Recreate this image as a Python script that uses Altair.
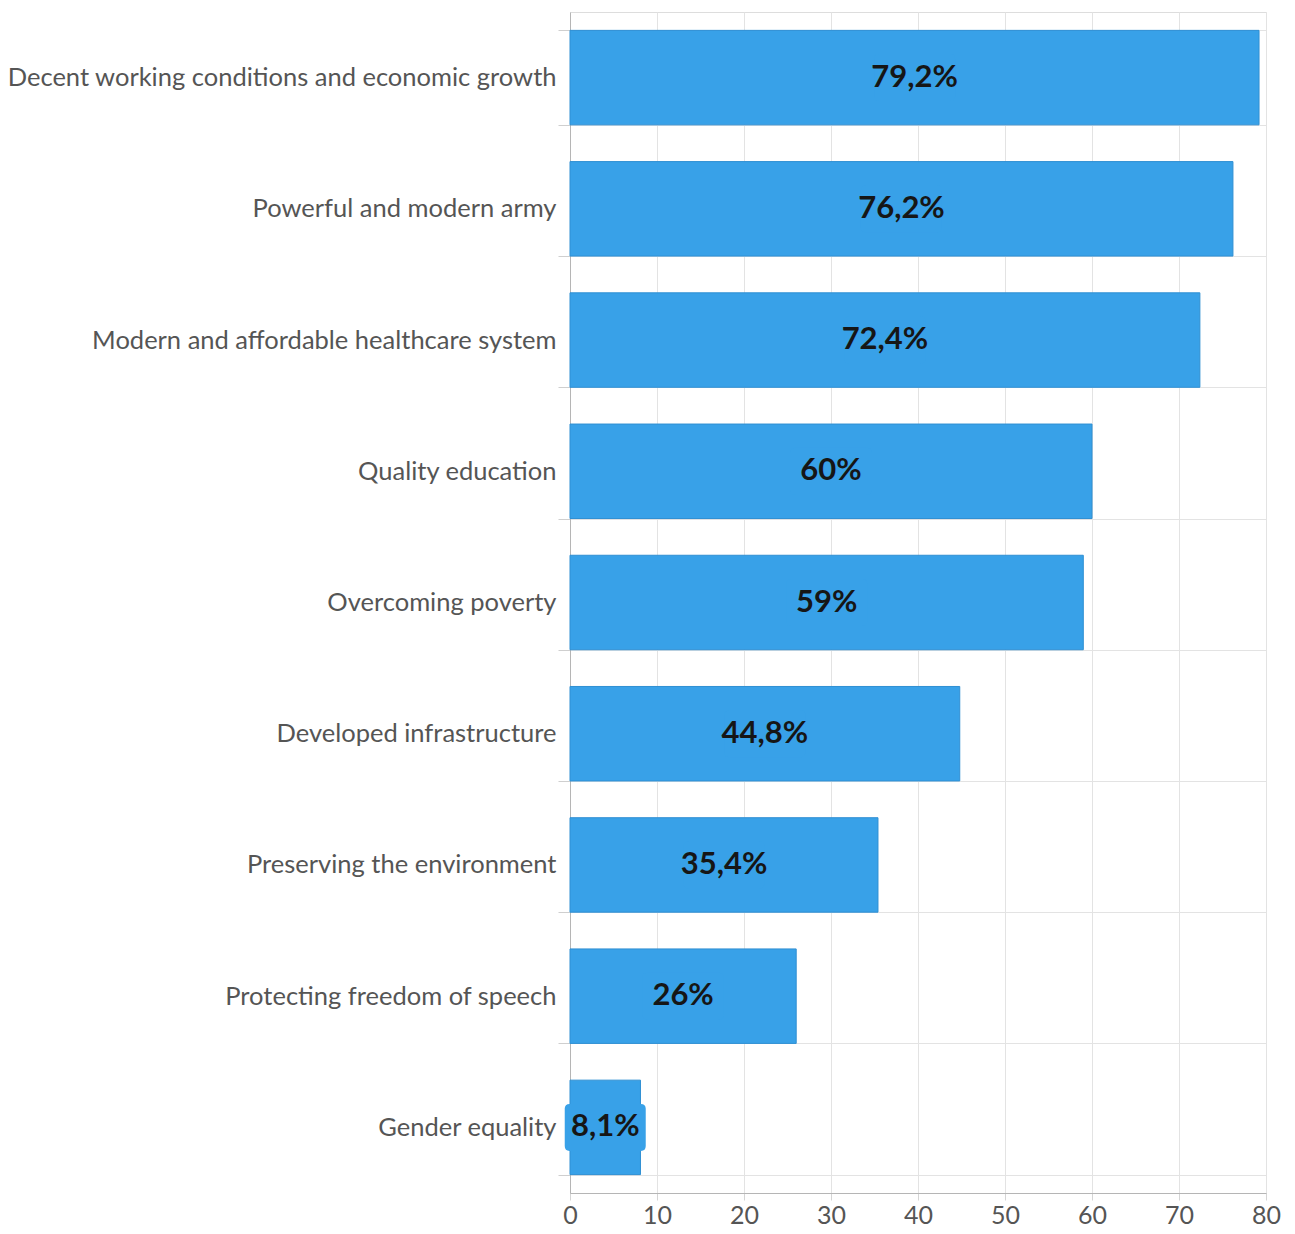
import altair as alt
import pandas as pd

categories = [
    "Decent working conditions and economic growth",
    "Powerful and modern army",
    "Modern and affordable healthcare system",
    "Quality education",
    "Overcoming poverty",
    "Developed infrastructure",
    "Preserving the environment",
    "Protecting freedom of speech",
    "Gender equality",
]
values = [79.2, 76.2, 72.4, 60, 59, 44.8, 35.4, 26, 8.1]
labels = ["79,2%", "76,2%", "72,4%", "60%", "59%", "44,8%", "35,4%", "26%", "8,1%"]
x_ticks = [0, 10, 20, 30, 40, 50, 60, 70, 80]

df = pd.DataFrame({"cat": categories, "value": values, "label": labels})
df["mid"] = df["value"] / 2

BLUE = "#38a1e8"
FONT = "Lato"

y_enc = alt.Y(
    "cat:N",
    sort=categories,
    title=None,
    scale=alt.Scale(paddingInner=0.28, paddingOuter=0.14),
    axis=alt.Axis(
        tickBand="extent",
        grid=True,
        gridColor="#e3e3e3",
        domainColor="#b5b5b5",
        tickColor="#cfcfcf",
        tickSize=12,
        labelPadding=2,
        labelFont=FONT,
        labelFontSize=25.5,
        labelColor="#555555",
        labelLimit=600,
    ),
)

x_scale = alt.Scale(domain=[0, 80], nice=False, zero=True)
x_axis = alt.Axis(
    values=x_ticks,
    grid=True,
    gridColor="#e3e3e3",
    domainColor="#b5b5b5",
    tickColor="#d5d5d5",
    tickSize=7,
    labelFont=FONT,
    labelFontSize=25,
    labelColor="#555555",
    labelPadding=3,
    labelFlush=False,
    title=None,
)

bars = alt.Chart(df).mark_bar(color=BLUE, stroke="#2f8fd3", strokeWidth=1).encode(
    y=y_enc,
    x=alt.X("value:Q", scale=x_scale, axis=x_axis),
)

rounded = "M -0.88 -0.58 L 0.88 -0.58 Q 1 -0.58 1 -0.46 L 1 0.46 Q 1 0.58 0.88 0.58 L -0.88 0.58 Q -1 0.58 -1 0.46 L -1 -0.46 Q -1 -0.58 -0.88 -0.58 Z"

boxes = alt.Chart(df).mark_point(
    shape=rounded, filled=True, color=BLUE, opacity=1, size=81 * 81
).encode(
    y=alt.Y("cat:N", sort=categories),
    x=alt.X("mid:Q", scale=x_scale),
)

texts = alt.Chart(df).mark_text(
    font=FONT, fontSize=31, fontWeight="bold", color="#161616",
    align="center", baseline="middle"
).encode(
    y=alt.Y("cat:N", sort=categories),
    x=alt.X("mid:Q", scale=x_scale),
    text="label:N",
)

chart = (
    alt.layer(bars, boxes, texts)
    .properties(
        width=696,
        height=1181,
        autosize=alt.AutoSizeParams(type="none"),
        padding={"left": 570, "top": 12, "right": 29, "bottom": 41},
    )
    .configure_view(stroke=None)
    .configure(background="white")
)

chart.save("out.html", embed_options={"renderer": "svg", "actions": False})
